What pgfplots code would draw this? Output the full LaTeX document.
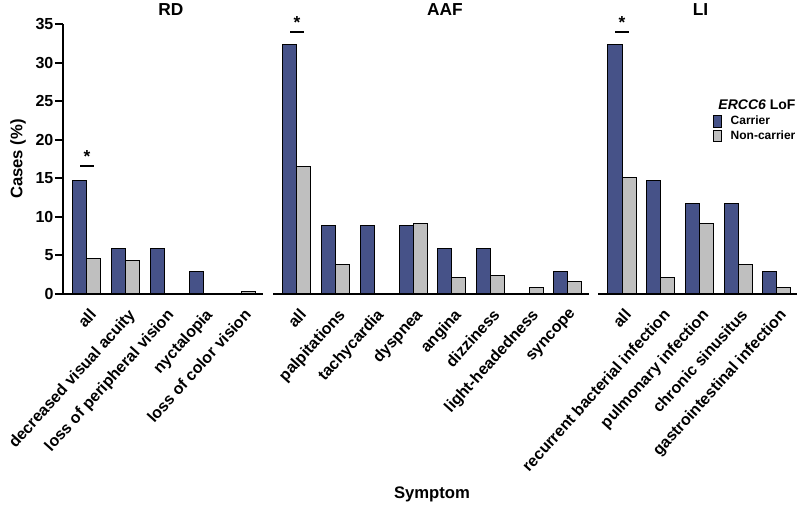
\documentclass[border=0pt]{standalone}
\usepackage{fontspec}
\setmainfont{Liberation Sans}
\usepackage{pgfplots}
\usepackage{pgfplotstable}
\pgfplotsset{compat=1.18}

\definecolor{carrier}{HTML}{465288}
\definecolor{noncarrier}{HTML}{BFBFBF}

% x  carrier  noncarrier  (percent of cases)
\pgfplotstableread{
x car non
0 14.71 4.6
1 5.88 4.4
2 5.88 0
3 2.94 0
4 0 0.3
}\rd
\pgfplotstableread{
x car non
0 32.35 16.5
1 8.82 3.8
2 8.82 0
3 8.82 9.2
4 5.88 2.2
5 5.88 2.45
6 0 0.85
7 2.94 1.6
}\aaf
\pgfplotstableread{
x car non
0 32.35 15.1
1 14.71 2.2
2 11.76 9.2
3 11.76 3.8
4 2.94 0.85
}\li

\pgfplotsset{
  panel/.style={
    scale only axis,
    height=202.5pt,
    ymin=0, ymax=35,
    xmin=-0.62,
    clip=false,
    ybar=0pt, bar width=0.362,
    axis on top,
    axis x line*=bottom,
    axis line style={line width=2pt, -},
    xtick=data,
    x tick style={draw=none},
    xticklabel style={rotate=48, anchor=north east, xshift=-0.25pt, yshift=-1.5pt,
      font=\bfseries\fontsize{12}{14}\selectfont, inner sep=2pt},
    /pgf/number format/assume math mode=true,
    yticklabel style={font=\bfseries\fontsize{12}{14}\selectfont, inner sep=1pt},
    tick align=outside,
    major tick length=6pt,
    y tick style={line width=1.5pt, black},
    every axis plot/.append style={draw=black, line width=0.75pt},
  },
}
\tikzset{sig/.style={line width=1.5pt}}

\begin{document}
\begin{tikzpicture}
\path[use as bounding box] (0,0) rectangle (600pt,381pt);

% RD
\begin{axis}[panel,
  at={(47.25pt,160.5pt)}, anchor=south west,
  width=150pt, xmax=4.55,
  axis y line*=left,
  ytick={0,5,...,35},
  ylabel={Cases (\%)},
  ylabel style={font=\bfseries\fontsize{12.5}{14}\selectfont, at={(axis description cs:-0.225,0.5)}, anchor=center},
  xticklabels={all,decreased visual acuity,loss of peripheral vision,nyctalopia,loss of color vision},
]
\addplot[fill=carrier] table[x=x,y=car] {\rd};
\addplot[fill=noncarrier] table[x=x,y=non] {\rd};
\draw[sig] (axis cs:-0.17,16.6) -- (axis cs:0.17,16.6);
\node[font=\bfseries\fontsize{13}{13}\selectfont, anchor=south, inner sep=1pt] at (axis cs:0,16.8) {*};
\end{axis}

% AAF
\begin{axis}[panel,
  at={(204.75pt,160.5pt)}, anchor=south west,
  width=237pt, xmax=7.55,
  axis y line=none, ytick=\empty,
  xticklabels={all,palpitations,tachycardia,dyspnea,angina,dizziness,light-headedness,syncope},
]
\addplot[fill=carrier] table[x=x,y=car] {\aaf};
\addplot[fill=noncarrier] table[x=x,y=non] {\aaf};
\draw[sig] (axis cs:-0.17,34.0) -- (axis cs:0.17,34.0);
\node[font=\bfseries\fontsize{13}{13}\selectfont, anchor=south, inner sep=1pt] at (axis cs:0,34.2) {*};
\end{axis}

% LI
\begin{axis}[panel,
  at={(448.5pt,160.5pt)}, anchor=south west,
  width=149.25pt, xmax=4.52,
  axis y line=none, ytick=\empty,
  xticklabels={all,recurrent bacterial infection,pulmonary infection,chronic sinusitus,gastrointestinal infection},
  legend style={at={(axis description cs:0.576,0.67)}, anchor=north west, draw=none, fill=none,
    font=\bfseries\fontsize{9}{10}\selectfont, inner sep=0pt, row sep=-1pt,
    cells={anchor=west}},
  legend image code/.code={\draw[#1, line width=0.75pt] (0pt,-4.3pt) rectangle (6pt,4.3pt);
    \path[draw=none, fill=none] (0pt,0pt) -- (11pt,0pt);},
]
\addplot[fill=carrier] table[x=x,y=car] {\li};
\addlegendentry{Carrier}
\addplot[fill=noncarrier] table[x=x,y=non] {\li};
\addlegendentry{Non-carrier}
\draw[sig] (axis cs:-0.17,34.0) -- (axis cs:0.17,34.0);
\node[font=\bfseries\fontsize{13}{13}\selectfont, anchor=south, inner sep=1pt] at (axis cs:0,34.2) {*};
\end{axis}

% titles and labels
\node[font=\bfseries\fontsize{13}{15}\selectfont] at (128.1pt,374.2pt) {RD};
\node[font=\bfseries\fontsize{13}{15}\selectfont] at (333.75pt,374.2pt) {AAF};
\node[font=\bfseries\fontsize{13}{15}\selectfont] at (525.4pt,374.2pt) {LI};
\node[font=\bfseries\fontsize{10.5}{11}\selectfont] at (567.75pt,302.25pt) {\textit{ERCC6} LoF};
\node[font=\bfseries\fontsize{12.5}{14}\selectfont] at (324pt,10.5pt) {Symptom};
\end{tikzpicture}
\end{document}
